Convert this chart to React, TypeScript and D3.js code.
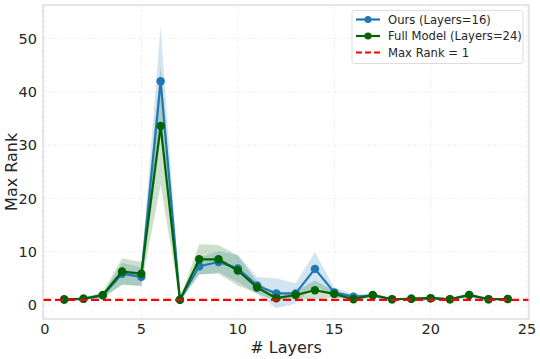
import React, { useEffect, useRef } from 'react';
import * as d3 from 'd3';

const layers = [1, 2, 3, 4, 5, 6, 7, 8, 9, 10, 11, 12, 13, 14, 15, 16, 17, 18, 19, 20, 21, 22, 23, 24];
const oursMean = [1.0, 1.2, 1.8, 5.9, 5.3, 42.0, 1.0, 7.3, 8.1, 6.9, 3.7, 2.2, 2.2, 6.8, 2.4, 1.6, 1.8, 1.1, 1.2, 1.3, 1.1, 1.9, 1.1, 1.15];
const oursStd = [0.2, 0.3, 0.4, 2.0, 1.8, 10.3, 0.3, 1.6, 2.0, 2.5, 1.6, 2.8, 1.9, 3.1, 0.9, 0.5, 0.4, 0.2, 0.2, 0.3, 0.2, 0.4, 0.2, 0.2];
const fullMean = [1.1, 1.2, 1.9, 6.3, 5.9, 33.6, 1.0, 8.6, 8.6, 6.5, 3.3, 1.3, 1.9, 2.8, 2.1, 1.1, 1.9, 1.1, 1.2, 1.3, 1.1, 1.9, 1.1, 1.15];
const fullStd = [0.2, 0.3, 0.5, 2.5, 2.2, 11.0, 0.3, 2.8, 2.7, 2.8, 1.1, 0.5, 0.6, 1.8, 0.6, 0.3, 0.4, 0.2, 0.2, 0.3, 0.2, 0.4, 0.2, 0.2];
const maxRank = 1;
const xTicks = [0, 5, 10, 15, 20, 25];
const yTicks = [0, 10, 20, 30, 40, 50];
const legendLabels = ['Ours (Layers=16)', 'Full Model (Layers=24)', 'Max Rank = 1'];

const W = 540;
const H = 359;
const font = 'DejaVu Sans, sans-serif';

export default function App() {
  const ref = useRef<SVGSVGElement>(null);

  useEffect(() => {
    const svg = d3.select(ref.current);
    svg.selectAll('*').remove();

    const x = d3.scaleLinear().domain([-0.1, 25.1]).range([43, 529]);
    const y = d3.scaleLinear().domain([-2.6, 56.3]).range([319, 5]);

    // grid
    const grid = svg.append('g');
    xTicks.forEach(t => {
      grid.append('line').attr('x1', x(t)).attr('x2', x(t)).attr('y1', 5).attr('y2', 319)
        .attr('stroke', '#ebebeb').attr('stroke-width', 0.8).attr('stroke-dasharray', '3,2');
    });
    yTicks.forEach(t => {
      grid.append('line').attr('x1', 43).attr('x2', 529).attr('y1', y(t)).attr('y2', y(t))
        .attr('stroke', '#ebebeb').attr('stroke-width', 0.8).attr('stroke-dasharray', '3,2');
    });

    const series = [
      { mean: oursMean, std: oursStd, color: '#1f77b4' },
      { mean: fullMean, std: fullStd, color: '#006400' },
    ];

    series.forEach(s => {
      const band = d3.area<number>()
        .x((_, i) => x(layers[i]))
        .y0((_, i) => y(s.mean[i] - s.std[i]))
        .y1((_, i) => y(s.mean[i] + s.std[i]));
      svg.append('path').attr('d', band(s.mean)).attr('fill', s.color).attr('fill-opacity', 0.2);
    });

    series.forEach(s => {
      const line = d3.line<number>().x((_, i) => x(layers[i])).y(d => y(d));
      svg.append('path').attr('d', line(s.mean)).attr('fill', 'none')
        .attr('stroke', s.color).attr('stroke-width', 2.2).attr('stroke-linejoin', 'round');
      svg.append('g').selectAll('circle').data(s.mean).enter().append('circle')
        .attr('cx', (_, i) => x(layers[i])).attr('cy', d => y(d)).attr('r', 4.2)
        .attr('fill', s.color);
    });

    svg.append('line').attr('x1', 43).attr('x2', 529).attr('y1', y(maxRank)).attr('y2', y(maxRank))
      .attr('stroke', '#ff0000').attr('stroke-width', 2.2).attr('stroke-dasharray', '8,4');

    // spines
    svg.append('rect').attr('x', 43).attr('y', 5).attr('width', 486).attr('height', 314)
      .attr('fill', 'none').attr('stroke', '#d6d6d6').attr('stroke-width', 1.2);

    // tick labels
    xTicks.forEach(t => {
      svg.append('text').attr('x', x(t)).attr('y', 334).attr('text-anchor', 'middle')
        .attr('font-family', font).attr('font-size', 14.5).attr('fill', '#262626').text(t);
    });
    yTicks.forEach(t => {
      svg.append('text').attr('x', 37).attr('y', y(t) + 5).attr('text-anchor', 'end')
        .attr('font-family', font).attr('font-size', 14.5).attr('fill', '#262626').text(t);
    });

    svg.append('text').attr('x', 286).attr('y', 353).attr('text-anchor', 'middle')
      .attr('font-family', font).attr('font-size', 16).attr('fill', '#262626').text('# Layers');
    svg.append('text').attr('transform', `translate(17,${y(25)}) rotate(-90)`).attr('text-anchor', 'middle')
      .attr('font-family', font).attr('font-size', 16).attr('fill', '#262626').text('Max Rank');

    // legend
    const lg = svg.append('g');
    lg.append('rect').attr('x', 352).attr('y', 10.5).attr('width', 171).attr('height', 53).attr('rx', 2.5)
      .attr('fill', 'white').attr('fill-opacity', 0.85).attr('stroke', '#dddddd').attr('stroke-width', 1);
    const colors = ['#1f77b4', '#006400', '#ff0000'];
    legendLabels.forEach((lab, i) => {
      const ly = 19.5 + i * 16.5;
      const ln = lg.append('line').attr('x1', 356).attr('x2', 380).attr('y1', ly).attr('y2', ly)
        .attr('stroke', colors[i]).attr('stroke-width', 2.2);
      if (i === 2) ln.attr('stroke-dasharray', '6,3');
      else lg.append('circle').attr('cx', 368).attr('cy', ly).attr('r', 3.5).attr('fill', colors[i]);
      lg.append('text').attr('x', 388).attr('y', ly + 4.2).attr('font-family', font).attr('font-size', 11.6)
        .attr('fill', '#262626').text(lab);
    });
  }, []);

  return <svg ref={ref} width={W} height={H} style={{ position: 'absolute', left: 0, top: 0, background: 'white' }} />;
}
